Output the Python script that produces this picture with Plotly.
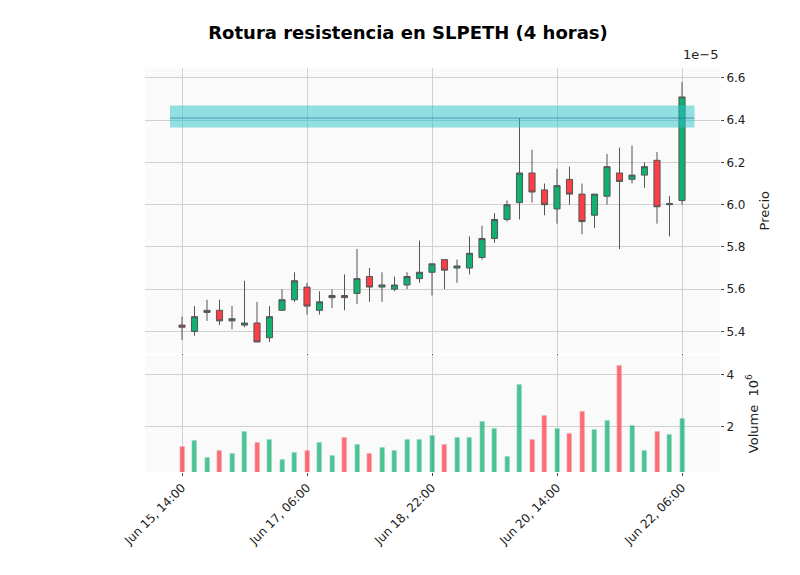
import plotly.graph_objects as go
from plotly.subplots import make_subplots

# precios en 1e-5, velas de 4 horas
opens = [5.43, 5.40, 5.49, 5.50, 5.45, 5.43, 5.44, 5.37, 5.50, 5.55, 5.61, 5.50, 5.56, 5.57, 5.58,
         5.66, 5.61, 5.60, 5.62, 5.65, 5.68, 5.74, 5.70, 5.70, 5.75, 5.84, 5.93, 6.01, 6.15, 6.07,
         5.98, 6.12, 6.05, 5.95, 6.04, 6.15, 6.12, 6.14, 6.21, 6.00, 6.02]
highs = [5.47, 5.52, 5.55, 5.55, 5.52, 5.64, 5.54, 5.52, 5.60, 5.68, 5.63, 5.59, 5.60, 5.67, 5.79,
         5.70, 5.68, 5.66, 5.68, 5.83, 5.72, 5.74, 5.74, 5.85, 5.90, 5.96, 6.02, 6.41, 6.26, 6.10,
         6.17, 6.18, 6.10, 6.05, 6.24, 6.27, 6.28, 6.20, 6.25, 6.04, 6.58]
lows = [5.36, 5.38, 5.45, 5.43, 5.41, 5.42, 5.35, 5.35, 5.50, 5.54, 5.48, 5.48, 5.51, 5.50, 5.53,
        5.54, 5.54, 5.59, 5.60, 5.63, 5.57, 5.60, 5.63, 5.67, 5.74, 5.82, 5.92, 5.93, 6.01, 5.95,
        5.91, 6.00, 5.86, 5.89, 6.00, 5.79, 6.10, 6.08, 5.91, 5.85, 6.00]
closes = [5.42, 5.47, 5.50, 5.45, 5.46, 5.44, 5.35, 5.47, 5.55, 5.64, 5.52, 5.54, 5.57, 5.56, 5.65,
          5.61, 5.62, 5.62, 5.66, 5.68, 5.72, 5.69, 5.71, 5.77, 5.84, 5.93, 6.00, 6.15, 6.06, 6.00,
          6.09, 6.05, 5.92, 6.05, 6.18, 6.11, 6.14, 6.18, 5.99, 6.005, 6.51]
# volumen en 1e6
volumes = [1.25, 1.45, 0.8, 1.1, 0.95, 1.8, 1.4, 1.5, 0.75, 1.0, 1.1, 1.4, 0.9, 1.6, 1.3,
           0.95, 1.2, 1.1, 1.5, 1.5, 1.65, 1.3, 1.6, 1.6, 2.2, 1.95, 0.85, 3.65, 1.5, 2.45,
           1.95, 1.75, 2.6, 1.9, 2.25, 4.35, 2.05, 1.1, 1.8, 1.7, 2.3]
tick_pos = [0, 10, 20, 30, 40]
tick_labels = ["Jun 15, 14:00", "Jun 17, 06:00", "Jun 18, 22:00", "Jun 20, 14:00", "Jun 22, 06:00"]
resist_low, resist_high, resist_line = 6.365, 6.47, 6.41

green = "#10b070"
red = "#ff3d45"
x = list(range(len(opens)))
vol_colors = ["rgba(16,176,112,0.75)" if c >= o else "rgba(255,61,69,0.75)" for o, c in zip(opens, closes)]

fig = make_subplots(rows=2, cols=1, shared_xaxes=True, vertical_spacing=0.005,
                    row_heights=[0.71, 0.29])

fig.add_trace(go.Candlestick(
    x=x, open=opens, high=highs, low=lows, close=closes,
    increasing=dict(line=dict(color="#555", width=1), fillcolor=green),
    decreasing=dict(line=dict(color="#555", width=1), fillcolor=red),
    whiskerwidth=0, showlegend=False), row=1, col=1)

fig.add_trace(go.Bar(x=x, y=volumes, marker_color=vol_colors, width=0.4, showlegend=False),
              row=2, col=1)

fig.add_shape(type="rect", x0=-0.96, x1=41.0, y0=resist_low, y1=resist_high,
              fillcolor="rgba(40,195,200,0.5)", line_width=0, xref="x", yref="y")
fig.add_shape(type="line", x0=-0.96, x1=41.0, y0=resist_line, y1=resist_line,
              line=dict(color="rgba(40,90,160,0.6)", width=1), xref="x", yref="y")

axis_style = dict(showgrid=True, gridcolor="#d0d0d0", zeroline=False, showline=False, automargin=False,
                  tickfont=dict(size=12, color="#222"), ticks="outside", ticklen=3, tickcolor="#444")

fig.update_xaxes(range=[-2.96, 43.04], tickvals=tick_pos, ticktext=tick_labels,
                 rangeslider_visible=False, **axis_style)
fig.update_xaxes(tickangle=-45, row=2, col=1)
fig.update_yaxes(side="right", range=[5.296, 6.647], tickvals=[5.4, 5.6, 5.8, 6.0, 6.2, 6.4, 6.6],
                 ticktext=["5.4", "5.6", "5.8", "6.0", "6.2", "6.4", "6.6"],
                 title=dict(text="Precio", font=dict(size=13)), **axis_style, row=1, col=1)
fig.update_yaxes(side="right", range=[0.25, 4.75], tickvals=[2, 4], ticktext=["2", "4"],
                 title=dict(text="Volume  10<sup>6</sup>", font=dict(size=13)), **axis_style, row=2, col=1)

fig.add_annotation(text="1e\u22125", xref="paper", yref="paper", x=1.0, y=1.0, yshift=4,
                   xanchor="right", yanchor="bottom", showarrow=False, font=dict(size=13, color="#222"))

fig.update_layout(
    title=dict(text="<b>Rotura resistencia en SLPETH (4 horas)</b>", x=0.5, y=0.968,
               xanchor="center", font=dict(size=18, color="#000")),
    width=800, height=575,
    margin=dict(l=137, r=88, t=60, b=111),
    paper_bgcolor="white", plot_bgcolor="#fafafa",
    font=dict(family="DejaVu Sans", color="#222"),
    bargap=0,
)

fig.write_html("out.html")
